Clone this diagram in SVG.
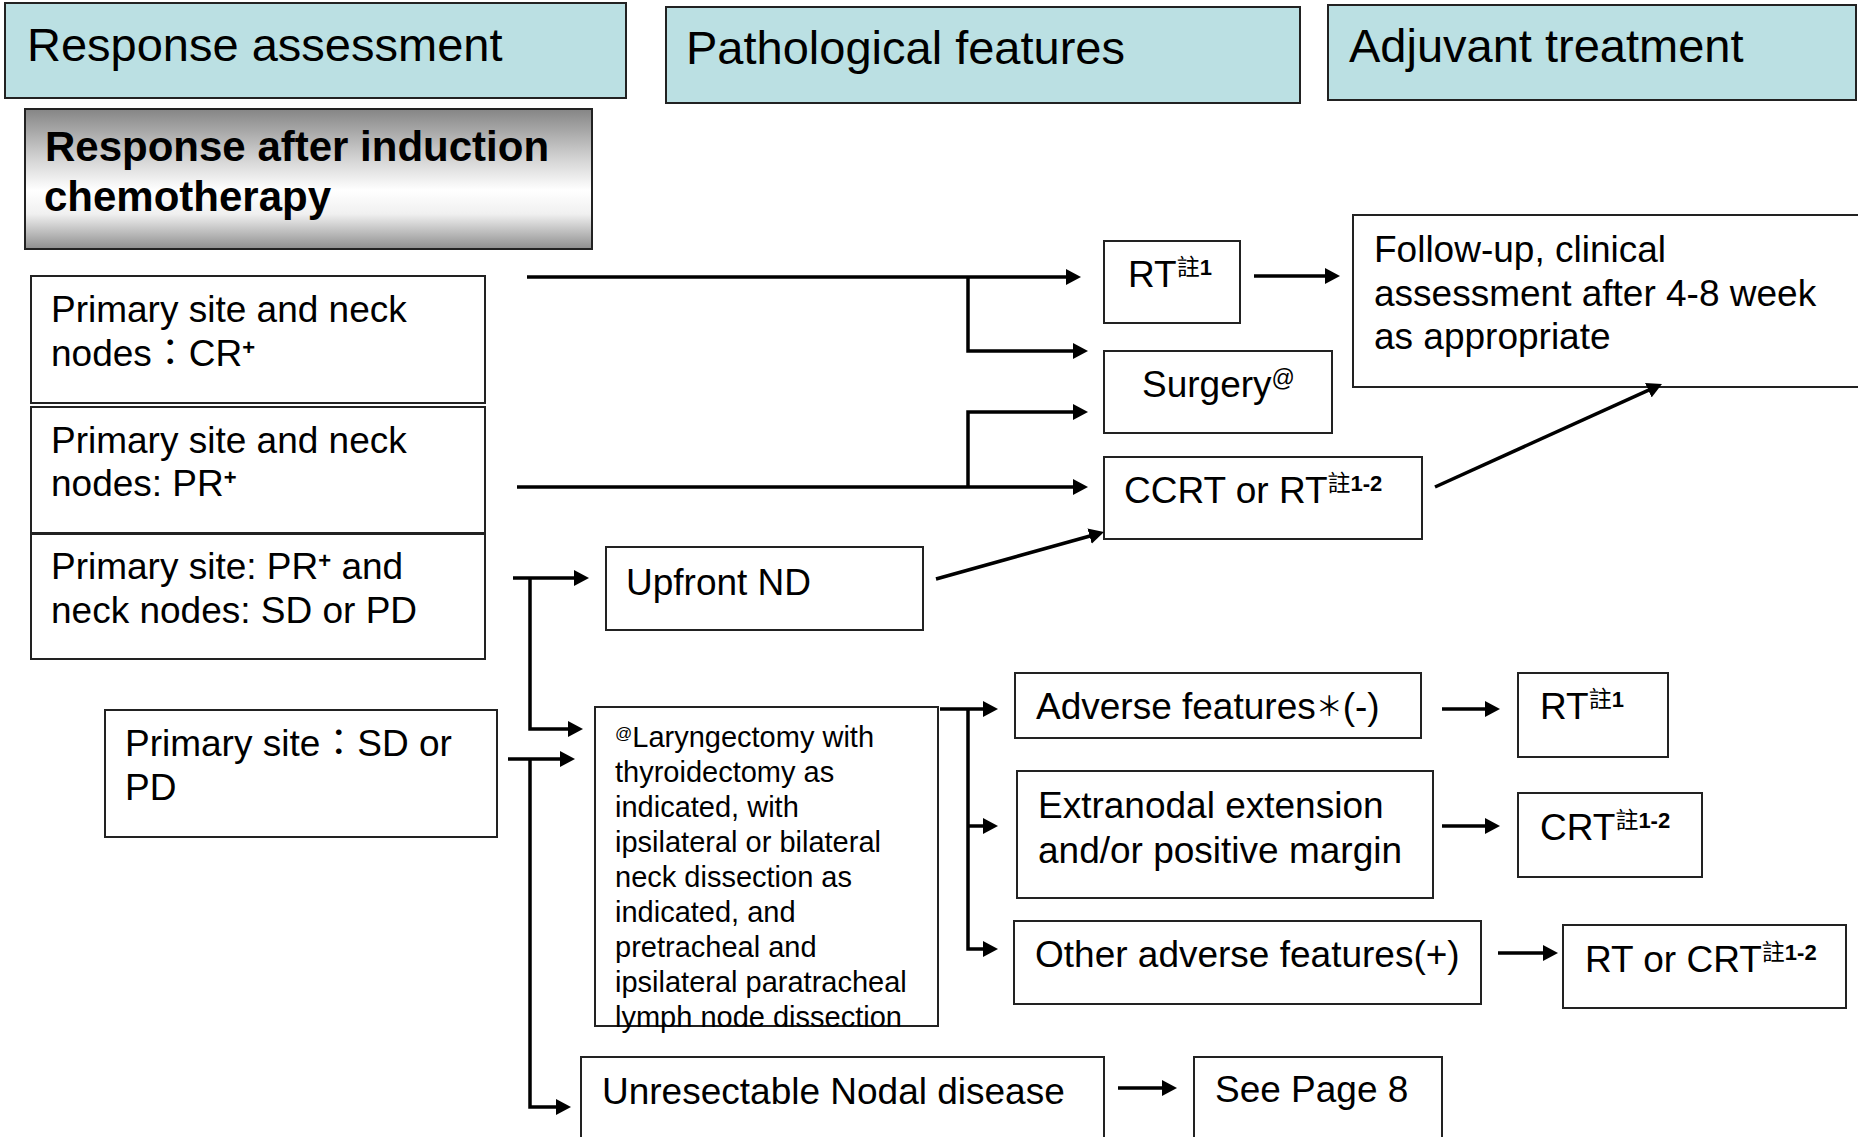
<svg xmlns="http://www.w3.org/2000/svg" width="1858" height="1137" viewBox="0 0 1858 1137">
<style>
.t{font-family:"Liberation Sans","Noto Sans CJK TC",sans-serif;font-size:37px;fill:#000}
.h{font-size:47px}
.bd{font-weight:bold;font-size:42px}
.s{font-size:29px}
.sup{font-size:23px}
.sb{font-size:22px;font-weight:bold}
.box{fill:#fff;stroke:#222;stroke-width:2}
.hdr{fill:#BBE0E3;stroke:#222;stroke-width:2}
.c{fill:none;stroke:#000;stroke-width:3.5;marker-end:url(#ah)}
</style>
<defs>
<marker id="ah" markerUnits="userSpaceOnUse" markerWidth="16" markerHeight="16" refX="7" refY="8" orient="auto">
<path d="M0,0 L15,8 L0,16 z" fill="#000"/>
</marker>
<linearGradient id="gg" x1="0" y1="0" x2="0" y2="1">
<stop offset="0" stop-color="#858585"/>
<stop offset="0.35" stop-color="#d2d2d2"/>
<stop offset="0.58" stop-color="#ffffff"/>
<stop offset="0.75" stop-color="#f0f0f0"/>
<stop offset="1" stop-color="#8e8e8e"/>
</linearGradient>
</defs>

<g id="hdr-response">
<rect class="hdr" x="5" y="3" width="621" height="95"/>
<text class="t h" x="27" y="61">Response assessment</text>
</g>
<g id="hdr-pathological">
<rect class="hdr" x="666" y="7" width="634" height="96"/>
<text class="t h" x="686" y="64">Pathological features</text>
</g>
<g id="hdr-adjuvant">
<rect class="hdr" x="1328" y="5" width="528" height="95"/>
<text class="t h" x="1349" y="62">Adjuvant treatment</text>
</g>
<g id="response-induction">
<rect x="25" y="109" width="567" height="140" fill="url(#gg)" stroke="#222" stroke-width="2"/>
<text class="t bd" x="45" y="161">Response after induction</text>
<text class="t bd" x="44" y="211">chemotherapy</text>
</g>

<g id="n-cr">
<rect class="box" x="31" y="276" width="454" height="127"/>
<text class="t" x="51" y="322">Primary site and neck</text>
<text class="t" x="51" y="366">nodes：CR<tspan class="sb" dy="-11">+</tspan></text>
</g>
<g id="n-pr">
<rect class="box" x="31" y="407" width="454" height="126"/>
<text class="t" x="51" y="453">Primary site and neck</text>
<text class="t" x="51" y="496">nodes: PR<tspan class="sb" dy="-11">+</tspan></text>
</g>
<g id="n-prsd">
<rect class="box" x="31" y="534" width="454" height="125"/>
<text class="t" x="51" y="579">Primary site: PR<tspan class="sb" dy="-11">+</tspan><tspan dy="11"> and</tspan></text>
<text class="t" x="51" y="623">neck nodes: SD or PD</text>
</g>
<g id="n-sd">
<rect class="box" x="105" y="710" width="392" height="127"/>
<text class="t" x="125" y="756">Primary site：SD or</text>
<text class="t" x="125" y="800">PD</text>
</g>

<g id="n-rt1">
<rect class="box" x="1104" y="241" width="136" height="82"/>
<text class="t" x="1128" y="287">RT<tspan class="sup" dy="-12">註</tspan><tspan class="sb">1</tspan></text>
</g>
<g id="n-surgery">
<rect class="box" x="1104" y="351" width="228" height="82"/>
<text class="t" x="1142" y="397">Surgery<tspan class="sup" dy="-11">@</tspan></text>
</g>
<g id="n-ccrt">
<rect class="box" x="1104" y="457" width="318" height="82"/>
<text class="t" x="1124" y="503">CCRT or RT<tspan class="sup" dy="-12">註</tspan><tspan class="sb">1-2</tspan></text>
</g>
<g id="n-followup">
<rect class="box" x="1353" y="215" width="520" height="172"/>
<text class="t" x="1374" y="262">Follow-up, clinical</text>
<text class="t" x="1374" y="306">assessment after 4-8 week</text>
<text class="t" x="1374" y="349">as appropriate</text>
</g>
<g id="n-upfront">
<rect class="box" x="606" y="547" width="317" height="83"/>
<text class="t" x="626" y="595">Upfront ND</text>
</g>
<g id="n-laryngectomy">
<rect class="box" x="595" y="707" width="343" height="319"/>
<text class="t s" x="615" y="747"><tspan font-size="17" dy="-8">@</tspan><tspan dy="8">Laryngectomy with</tspan></text>
<text class="t s" x="615" y="782">thyroidectomy as</text>
<text class="t s" x="615" y="817">indicated, with</text>
<text class="t s" x="615" y="852">ipsilateral or bilateral</text>
<text class="t s" x="615" y="887">neck dissection as</text>
<text class="t s" x="615" y="922">indicated, and</text>
<text class="t s" x="615" y="957">pretracheal and</text>
<text class="t s" x="615" y="992">ipsilateral paratracheal</text>
<text class="t s" x="615" y="1027">lymph node dissection</text>
</g>
<g id="n-adverse-neg">
<rect class="box" x="1015" y="673" width="406" height="65"/>
<text class="t" x="1036" y="719">Adverse features<tspan font-size="27" dy="-3">＊</tspan><tspan dy="3">(-)</tspan></text>
</g>
<g id="n-extranodal">
<rect class="box" x="1017" y="771" width="416" height="127"/>
<text class="t" x="1038" y="818">Extranodal extension</text>
<text class="t" x="1038" y="863">and/or positive margin</text>
</g>
<g id="n-other">
<rect class="box" x="1014" y="921" width="467" height="83"/>
<text class="t" x="1035" y="967">Other adverse features(+)</text>
</g>
<g id="n-rt2">
<rect class="box" x="1518" y="673" width="150" height="84"/>
<text class="t" x="1540" y="719">RT<tspan class="sup" dy="-12">註</tspan><tspan class="sb">1</tspan></text>
</g>
<g id="n-crt">
<rect class="box" x="1518" y="793" width="184" height="84"/>
<text class="t" x="1540" y="840">CRT<tspan class="sup" dy="-12">註</tspan><tspan class="sb">1-2</tspan></text>
</g>
<g id="n-rtcrt">
<rect class="box" x="1563" y="925" width="283" height="83"/>
<text class="t" x="1585" y="972">RT or CRT<tspan class="sup" dy="-12">註</tspan><tspan class="sb">1-2</tspan></text>
</g>
<g id="n-unresectable">
<rect class="box" x="581" y="1057" width="523" height="100"/>
<text class="t" x="602" y="1104">Unresectable Nodal disease</text>
</g>
<g id="n-seepage">
<rect class="box" x="1194" y="1057" width="248" height="100"/>
<text class="t" x="1215" y="1102">See Page 8</text>
</g>

<g id="connectors">
<path class="c" d="M527,277 H1073"/>
<path class="c" d="M968,277 V351 H1080"/>
<path class="c" d="M517,487 H1080"/>
<path class="c" d="M968,487 V412 H1080"/>
<path class="c" d="M1254,276 H1332"/>
<path class="c" d="M936,579 L1096.3,534.2"/>
<path class="c" d="M1435,487 L1654.7,387.3"/>
<path class="c" d="M513,578 H581"/>
<path class="c" d="M530,578 V729 H575"/>
<path class="c" d="M508,759 H567"/>
<path class="c" d="M530,759 V1107 H563"/>
<path class="c" d="M940,709 H990"/>
<path class="c" d="M968,709 V949 H990"/>
<path class="c" d="M968,826 H990"/>
<path class="c" d="M1442,709 H1492"/>
<path class="c" d="M1442,826 H1492"/>
<path class="c" d="M1498,953 H1550"/>
<path class="c" d="M1118,1088 H1169"/>
</g>
</svg>
